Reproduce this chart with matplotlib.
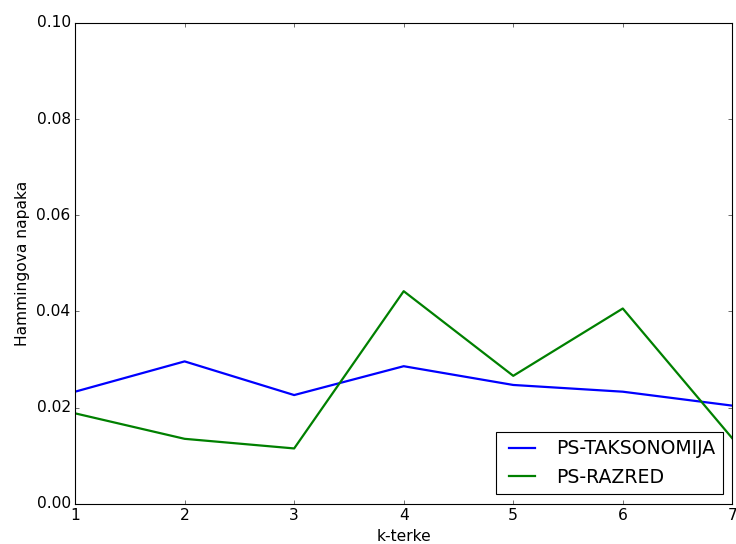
import matplotlib
matplotlib.use("Agg")
import matplotlib.pyplot as plt

plt.style.use('classic')
plt.rcParams['font.size'] = 14

k = [1, 2, 3, 4, 5, 6, 7]
taksonomija = [0.0233, 0.0296, 0.0226, 0.0286, 0.0247, 0.0233, 0.0204]
razred = [0.0188, 0.0135, 0.0115, 0.0442, 0.0266, 0.0406, 0.0136]

fig = plt.figure(figsize=(9.2, 6.8), dpi=80)
ax = fig.add_axes([0.102, 0.074, 0.893, 0.884])
ax.plot(k, taksonomija, color='b', linewidth=2, label='PS-TAKSONOMIJA')
ax.plot(k, razred, color='g', linewidth=2, label='PS-RAZRED')
ax.set_xlim(1, 7)
ax.set_ylim(0, 0.1)
ax.tick_params(labelsize=14)
ax.set_xlabel('k-terke', fontsize=14, labelpad=5)
ax.set_ylabel('Hammingova napaka', fontsize=14, labelpad=6)
ax.legend(loc='lower right', fontsize=17)
fig.savefig('out.png', dpi=80)
